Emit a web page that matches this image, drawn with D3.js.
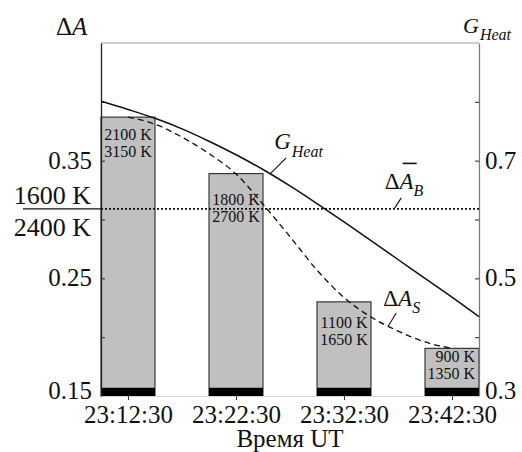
<!DOCTYPE html>
<html>
<head>
<meta charset="utf-8">
<script src="https://cdn.jsdelivr.net/npm/d3@7/dist/d3.min.js"></script>
<style>
  html, body { margin: 0; padding: 0; background: #fff; }
  svg { display: block; font-family: "Liberation Serif", "Times New Roman", serif; }
</style>
</head>
<body>
<svg id="chart" width="522" height="452"></svg>
<script>
// ---------- DATA ----------
const categories = ["23:12:30", "23:22:30", "23:32:30", "23:42:30"];
const barDeltaA = [0.387, 0.339, 0.230, 0.1905];       // ΔA bar heights (left axis)
const bandTop = [0.157, 0.157, 0.157, 0.157];          // black base band top (left axis)
const tempLow = ["2100 K", "1800 K", "1100 K", "900 K"];
const tempHigh = ["3150 K", "2700 K", "1650 K", "1350 K"];
const deltaABar = 0.309;                                // mean ΔA_B (dotted)
const refTempLow = "1600 K";
const refTempHigh = "2400 K";

const gHeatTimes = ["23:10:00","23:12:30","23:15:00","23:17:30","23:20:00","23:22:30","23:25:00",
                    "23:27:30","23:30:00","23:32:30","23:35:00","23:37:30","23:40:00","23:42:30","23:45:00"];
const gHeatValues = [0.801, 0.787, 0.772, 0.754, 0.733, 0.710, 0.685,
                     0.657, 0.627, 0.596, 0.564, 0.532, 0.500, 0.468, 0.435];

const dASTimes = ["23:12:30","23:15:00","23:17:30","23:20:00","23:22:30","23:25:00","23:27:30",
                  "23:30:00","23:32:30","23:35:00","23:37:30","23:40:00","23:42:30"];
const dASValues = [0.387, 0.381, 0.370, 0.356, 0.3387, 0.313, 0.2854,
                   0.257, 0.2337, 0.2171, 0.2052, 0.1959, 0.1905];

const timeDomain = ["23:10:00", "23:45:00"];
const leftTicks = [0.15, 0.20, 0.25, 0.30, 0.35, 0.40];
const leftTickLabels = ["0.15", "", "0.25", "", "0.35", ""];
const rightTicks = [0.3, 0.4, 0.5, 0.6, 0.7, 0.8];
const rightTickLabels = ["0.3", "", "0.5", "", "0.7", ""];
const xAxisTitle = "Время UT";

// ---------- HELPERS ----------
const parseT = s => new Date("2000-01-01T" + s + "Z");
const fmtT = d3.utcFormat("%H:%M:%S");
function interp(times, values, t) {
  const ts = times.map(parseT).map(Number);
  const v = +parseT(t);
  for (let i = 0; i < ts.length - 1; i++) {
    if (v >= ts[i] && v <= ts[i + 1]) {
      const f = (v - ts[i]) / (ts[i + 1] - ts[i]);
      return values[i] + f * (values[i + 1] - values[i]);
    }
  }
  return values[values.length - 1];
}

// ---------- LAYOUT ----------
const svg = d3.select("#chart");
const L = 101, R = 479, T = 43, B = 396;
const FONT = 25;

const x = d3.scaleUtc().domain(timeDomain.map(parseT)).range([L, R]);
const yL = d3.scaleLinear().domain([0.15, 0.45]).range([B, T]);
const yR = d3.scaleLinear().domain([0.3, 0.9]).range([B, T]);
const halfBar = (x(parseT("23:15:00")) - x(parseT("23:10:00"))) / 2;

svg.append("rect").attr("width", 522).attr("height", 452).attr("fill", "#fff");

// frame top
svg.append("line").attr("x1", L).attr("x2", R).attr("y1", T).attr("y2", T)
  .attr("stroke", "#9a9a9a").attr("stroke-width", 1.2);

// bars
const bars = svg.append("g");
categories.forEach((c, i) => {
  const cx = x(parseT(c));
  bars.append("rect")
    .attr("x", cx - halfBar).attr("width", halfBar * 2)
    .attr("y", yL(barDeltaA[i])).attr("height", yL(0.15) - yL(barDeltaA[i]))
    .attr("fill", "#c0c0c0").attr("stroke", "#2a2a2a").attr("stroke-width", 1.1);
  bars.append("rect")
    .attr("x", cx - halfBar).attr("width", halfBar * 2)
    .attr("y", yL(bandTop[i])).attr("height", yL(0.15) - yL(bandTop[i]))
    .attr("fill", "#000");
});

// axes
const axL = d3.axisLeft(yL).tickValues(leftTicks)
  .tickFormat((d, i) => leftTickLabels[i]).tickSizeInner(-4).tickSizeOuter(0).tickPadding(9);
const gL = svg.append("g").attr("transform", `translate(${L},0)`).call(axL);

const axR = d3.axisRight(yR).tickValues(rightTicks)
  .tickFormat((d, i) => rightTickLabels[i]).tickSizeInner(-4).tickSizeOuter(0).tickPadding(6);
const gR = svg.append("g").attr("transform", `translate(${R},0)`).call(axR);

const axB = d3.axisBottom(x).tickValues(categories.map(parseT))
  .tickFormat(fmtT).tickSizeInner(4).tickSizeOuter(0).tickPadding(5);
const gB = svg.append("g").attr("transform", `translate(0,${B})`).call(axB);

[gL, gR, gB].forEach(g => {
  g.selectAll("text").attr("font-size", FONT).attr("fill", "#111")
    .attr("font-family", '"Liberation Serif", "Times New Roman", serif');
  g.selectAll(".tick line").attr("stroke", "#333").attr("stroke-width", 1.1);
});
gL.select(".domain").attr("stroke", "#222").attr("stroke-width", 1.3);
gR.select(".domain").attr("stroke", "#777").attr("stroke-width", 1.2);
gB.select(".domain").attr("stroke", "#d8d8d8").attr("stroke-width", 1);
// vertical tick label placement; the bottom-most labels are lifted above the x labels
gL.selectAll("text").attr("dy", (d, i) => i === 0 ? "0.1em" : "0.3em");
gR.selectAll("text").attr("dy", (d, i) => i === 0 ? "0.1em" : "0.3em");

// dotted mean line
svg.append("line").attr("x1", L).attr("x2", R)
  .attr("y1", yL(deltaABar)).attr("y2", yL(deltaABar))
  .attr("stroke", "#111").attr("stroke-width", 1.6).attr("stroke-dasharray", "2,2");
// fraction bar left of axis
svg.append("line").attr("x1", 23).attr("x2", L)
  .attr("y1", yL(deltaABar)).attr("y2", yL(deltaABar))
  .attr("stroke", "#111").attr("stroke-width", 1.4);
svg.append("text").attr("x", 91).attr("y", yL(deltaABar) - 5).attr("text-anchor", "end")
  .attr("font-size", 26).attr("fill", "#111").text(refTempLow);
svg.append("text").attr("x", 91).attr("y", yL(deltaABar) + 27).attr("text-anchor", "end")
  .attr("font-size", 26).attr("fill", "#111").text(refTempHigh);

// curves
const gLine = d3.line().curve(d3.curveMonotoneX)
  .x(d => x(parseT(d[0]))).y(d => yR(d[1]));
svg.append("path").attr("d", gLine(gHeatTimes.map((t, i) => [t, gHeatValues[i]])))
  .attr("fill", "none").attr("stroke", "#111").attr("stroke-width", 1.5);

const sLine = d3.line().curve(d3.curveMonotoneX)
  .x(d => x(parseT(d[0]))).y(d => yL(d[1]));
svg.append("path").attr("d", sLine(dASTimes.map((t, i) => [t, dASValues[i]])))
  .attr("fill", "none").attr("stroke", "#111").attr("stroke-width", 1.3)
  .attr("stroke-dasharray", "6,4");

// bar labels
const labelDy = [23, 31, 26, 14];
categories.forEach((c, i) => {
  const cx = x(parseT(c));
  const last = i === categories.length - 1;
  const tx = last ? cx + halfBar - 4 : cx;
  const anchor = last ? "end" : "middle";
  const y0 = yL(barDeltaA[i]) + labelDy[i];
  svg.append("text").attr("x", tx).attr("y", y0).attr("text-anchor", anchor)
    .attr("font-size", 16).attr("fill", "#111").text(tempLow[i]);
  svg.append("text").attr("x", tx).attr("y", y0 + 17).attr("text-anchor", anchor)
    .attr("font-size", 16).attr("fill", "#111").text(tempHigh[i]);
});

// ---------- annotations ----------
function subLabel(px, py, parts, size) {
  const t = svg.append("text").attr("x", px).attr("y", py).attr("fill", "#111").attr("font-size", size);
  parts.forEach(p => {
    const s = t.append("tspan").text(p.text);
    if (p.italic) s.attr("font-style", "italic");
    if (p.size) s.attr("font-size", p.size);
    if (p.dy) s.attr("dy", p.dy);
    if (p.dx) s.attr("dx", p.dx);
  });
  return t;
}
function leader(x1, y1, x2, y2) {
  svg.append("line").attr("x1", x1).attr("y1", y1).attr("x2", x2).attr("y2", y2)
    .attr("stroke", "#111").attr("stroke-width", 1.1);
}

// axis titles
subLabel(56, 35, [{text: "Δ"}, {text: "A", italic: true}], 25);
subLabel(463, 33, [{text: "G", italic: true}, {text: "Heat", italic: true, size: 16, dy: 7, dx: 1}], 22);

// G_Heat
{
  const t = "23:25:40";
  const ax = x(parseT(t)), ay = yR(interp(gHeatTimes, gHeatValues, t));
  leader(ax, ay, ax + 16, ay - 16);
  subLabel(ax + 4, ay - 25, [{text: "G", italic: true}, {text: "Heat", italic: true, size: 16, dy: 8, dx: 1}], 23);
}
// ΔA_B
{
  const t = "23:37:12";
  const ax = x(parseT(t)), ay = yL(deltaABar);
  leader(ax, ay - 1, ax + 6.5, ay - 11);
  const lbl = subLabel(ax - 10, ay - 20, [{text: "Δ"}, {text: "A", italic: true}, {text: "B", italic: true, size: 16, dy: 7}], 23);
  let ox1 = ax + 4, ox2 = ax + 26;
  try {
    const e = lbl.node().getExtentOfChar(1);
    ox1 = e.x + 3; ox2 = e.x + e.width + 3;
  } catch (err) {}
  svg.append("line").attr("x1", ox1).attr("x2", ox2).attr("y1", ay - 45.5).attr("y2", ay - 45.5)
    .attr("stroke", "#111").attr("stroke-width", 1.6);
}
// ΔA_S
{
  const t = "23:36:36";
  const ax = x(parseT(t)), ay = yL(interp(dASTimes, dASValues, t));
  leader(ax, ay, ax + 8, ay - 13);
  subLabel(ax - 5, ay - 20, [{text: "Δ"}, {text: "A", italic: true}, {text: "S", italic: true, size: 16, dy: 7}], 23);
}

// x-axis title
svg.append("text").attr("x", (L + R) / 2).attr("y", 447).attr("text-anchor", "middle")
  .attr("font-size", FONT).attr("fill", "#111").text(xAxisTitle);
</script>
</body>
</html>
